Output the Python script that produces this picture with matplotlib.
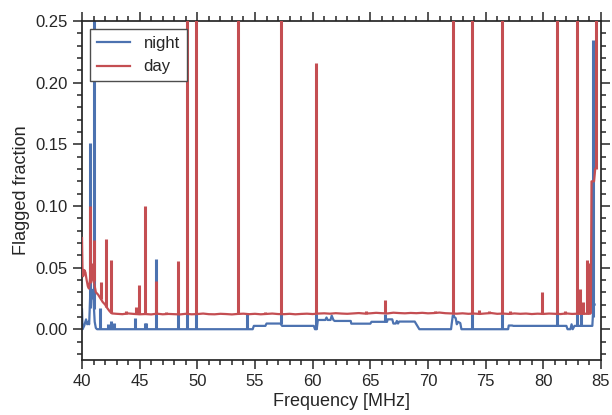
import matplotlib
matplotlib.use("Agg")
import matplotlib.pyplot as plt
import numpy as np
from matplotlib.ticker import MultipleLocator

plt.rcParams['font.family'] = ['Liberation Sans', 'DejaVu Sans']

# ---------------- data ----------------
# night: baseline breakpoints (MHz, flagged fraction)
night_freq = [40.0, 40.05, 40.2, 40.35, 40.45, 40.55, 40.62, 40.72, 40.85, 40.95,
              41.1, 41.2, 41.3, 54.8, 54.9, 55.9, 56.0, 57.2, 57.35, 60.1,
              60.2, 60.35, 60.45, 61.1, 61.2, 61.3, 61.55, 61.65, 61.8, 61.9,
              63.3, 63.35, 65.0, 65.1, 66.45, 66.5, 66.9, 67.0, 67.2, 67.3,
              67.4, 67.5, 68.85, 69.25, 72.0, 72.05, 72.15, 72.4, 72.5, 72.6,
              72.8, 72.9, 76.95, 77.0, 77.3, 77.4, 82.0, 82.1, 82.35, 82.45,
              82.55, 82.7, 84.25, 84.35, 84.45]
night_frac = [0.016, 0.0, 0.003, 0.008, 0.004, 0.006, 0.004, 0.030, 0.025, 0.032,
              0.006, 0.001, 0.0, 0.0, 0.0027, 0.0027, 0.0046, 0.0046, 0.0027, 0.0027,
              0.0, 0.0, 0.0075, 0.0075, 0.0095, 0.0075, 0.0075, 0.011, 0.0075, 0.0067,
              0.0067, 0.0045, 0.0045, 0.006, 0.006, 0.008, 0.008, 0.0046, 0.0046, 0.0067,
              0.0046, 0.0062, 0.0062, 0.0, 0.0, 0.004, 0.011, 0.009, 0.004, 0.006,
              0.005, 0.0, 0.0, 0.003, 0.003, 0.0027, 0.0027, 0.0, 0.0, 0.004,
              0.0, 0.0027, 0.0027, 0.020, 0.020]
# night: narrow RFI spikes
night_spike_freq = [40.67, 41.04, 41.6, 42.25, 42.5, 42.8, 44.6, 45.42, 45.52, 46.45,
                    48.35, 49.12, 49.85, 54.3, 57.25, 60.3, 66.3, 72.15, 73.8, 76.4,
                    81.2, 82.95, 83.3, 84.29]
night_spike_peak = [0.151, 0.30, 0.017, 0.004, 0.007, 0.005, 0.009, 0.005, 0.005, 0.057,
                    0.012, 0.012, 0.012, 0.012, 0.012, 0.012, 0.012, 0.012, 0.012, 0.012,
                    0.012, 0.012, 0.012, 0.235]

# day: baseline breakpoints
day_freq = [40.0, 40.04, 40.1, 40.2, 40.3, 40.4, 40.5, 40.6, 40.75, 40.8,
            40.95, 41.1, 41.2, 41.4, 41.6, 41.8, 42.0, 42.2, 42.4, 42.6,
            43.0, 43.5, 44.0, 44.5, 45.0, 45.5, 46.0, 46.5, 47.0, 47.5,
            48.0, 48.5, 49.0, 49.5, 50.0, 50.5, 51.0, 51.5, 52.0, 52.5,
            53.0, 53.5, 54.0, 54.5, 55.0, 55.5, 56.0, 56.5, 57.0, 57.5,
            58.0, 58.5, 59.0, 59.5, 60.0, 60.5, 61.0, 61.5, 62.0, 62.5,
            63.0, 63.5, 64.0, 64.5, 65.0, 65.5, 66.0, 66.5, 67.0, 67.5,
            68.0, 68.5, 69.0, 69.5, 70.0, 70.5, 71.0, 71.5, 72.0, 72.5,
            73.0, 73.5, 74.0, 74.5, 75.0, 75.5, 76.0, 76.5, 77.0, 77.5,
            78.0, 78.5, 79.0, 79.5, 80.0, 80.5, 81.0, 81.5, 82.0, 82.5,
            83.0, 83.5, 84.0, 84.12, 84.18, 84.4, 84.5]
day_frac = [0.074, 0.050, 0.043, 0.048, 0.046, 0.040, 0.035, 0.033, 0.045, 0.038,
            0.045, 0.035, 0.030, 0.028, 0.025, 0.022, 0.020, 0.017, 0.0145, 0.0128,
            0.0125, 0.0122, 0.0128, 0.0124, 0.0121, 0.0123, 0.0120, 0.0126, 0.0121, 0.0124,
            0.0122, 0.0120, 0.0125, 0.0121, 0.0123, 0.0127, 0.0122, 0.0121, 0.0125, 0.0123,
            0.0120, 0.0124, 0.0126, 0.0122, 0.0125, 0.0121, 0.0124, 0.0127, 0.0123, 0.0122,
            0.0125, 0.0121, 0.0124, 0.0126, 0.0123, 0.0127, 0.0129, 0.0126, 0.0130, 0.0127,
            0.0125, 0.0128, 0.0131, 0.0127, 0.0129, 0.0133, 0.0130, 0.0128, 0.0134, 0.0131,
            0.0129, 0.0132, 0.0130, 0.0133, 0.0129, 0.0131, 0.0135, 0.0130, 0.0128, 0.0126,
            0.0129, 0.0125, 0.0127, 0.0124, 0.0128, 0.0131, 0.0125, 0.0127, 0.0124, 0.0128,
            0.0125, 0.0127, 0.0123, 0.0126, 0.0124, 0.0127, 0.0125, 0.0123, 0.0128, 0.0124,
            0.0126, 0.0125, 0.0127, 0.0130, 0.120, 0.120, 0.130]
# day: narrow RFI spikes
day_spike_freq = [40.7, 40.87, 41.04, 41.62, 42.12, 42.55, 43.8, 44.7, 44.95, 45.42,
                  46.4, 47.3, 48.35, 49.12, 49.85, 53.55, 55.9, 57.25, 60.3, 64.6,
                  66.3, 70.6, 72.15, 73.85, 74.4, 75.3, 76.4, 77.1, 79.9, 81.2,
                  81.9, 82.95, 83.2, 83.4, 83.8, 83.95, 84.55]
day_spike_peak = [0.100, 0.054, 0.072, 0.038, 0.073, 0.056, 0.0145, 0.018, 0.036, 0.100,
                  0.039, 0.014, 0.055, 0.5, 0.5, 0.5, 0.014, 0.5, 0.216, 0.0145,
                  0.0235, 0.015, 0.5, 0.5, 0.0155, 0.015, 0.5, 0.0148, 0.0305, 0.5,
                  0.015, 0.5, 0.033, 0.022, 0.056, 0.054, 0.5]

# ---------------- plot ----------------
blue = '#4C72B0'
red = '#C44E52'
ink = '#262626'

fig = plt.figure(figsize=(6.12, 4.15), dpi=100)
ax = fig.add_axes([0.134, 0.1325, 0.848, 0.8165])

lw = 1.6
slw = 2.2
ax.plot(night_freq, night_frac, color=blue, lw=lw, label='night', zorder=2)
ax.vlines(night_spike_freq, np.interp(night_spike_freq, night_freq, night_frac),
          night_spike_peak, color=blue, lw=slw, zorder=2)
ax.plot(day_freq, day_frac, color=red, lw=lw, label='day', zorder=3)
ax.vlines(day_spike_freq, np.interp(day_spike_freq, day_freq, day_frac),
          day_spike_peak, color=red, lw=slw, zorder=3)

ax.set_xlim(40, 85)
ax.set_ylim(-0.025, 0.25)
ax.xaxis.set_major_locator(MultipleLocator(5))
ax.xaxis.set_minor_locator(MultipleLocator(1))
ax.yaxis.set_major_locator(MultipleLocator(0.05))
ax.yaxis.set_minor_locator(MultipleLocator(0.01))
ax.yaxis.set_major_formatter(matplotlib.ticker.FormatStrFormatter('%.2f'))

ax.tick_params(which='both', direction='out', top=True, right=True,
               color=ink, labelcolor=ink, width=1.1)
ax.tick_params(which='major', length=6.5, labelsize=12)
ax.tick_params(which='minor', length=3.8)
for s in ax.spines.values():
    s.set_color(ink)
    s.set_linewidth(1.25)

ax.set_xlabel('Frequency [MHz]', fontsize=13, color=ink, labelpad=3)
ax.set_ylabel('Flagged fraction', fontsize=13, color=ink)

leg = ax.legend(loc='upper left', fontsize=12, fancybox=False, framealpha=1,
                edgecolor='0.3')
leg.get_frame().set_linewidth(1.0)
for t in leg.get_texts():
    t.set_color(ink)

fig.savefig('out.png', dpi=100)
